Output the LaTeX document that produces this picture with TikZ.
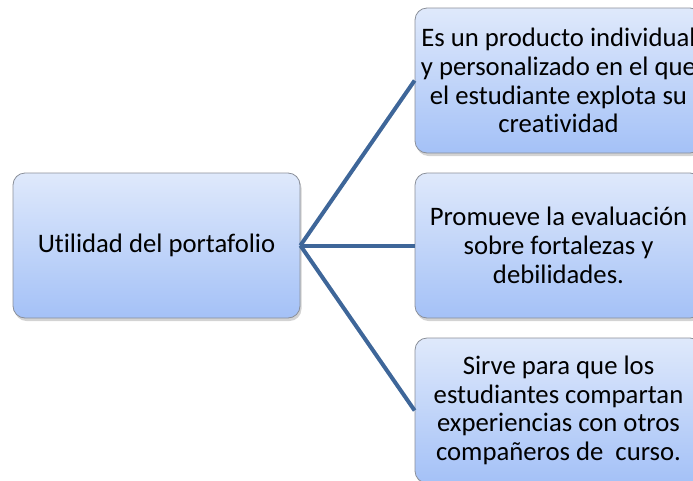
\documentclass[tikz,border=0pt]{standalone}
\usepackage{fontspec}
\setmainfont{Carlito}[Ligatures=CommonOff]
\usetikzlibrary{shadows}
\definecolor{boxtop}{HTML}{DFE9FB}
\definecolor{boxbot}{HTML}{A4C1F7}
\definecolor{boxline}{HTML}{8A8F99}
\definecolor{linkcol}{HTML}{3E6699}
\tikzset{
  card/.style={draw=boxline, line width=0.8pt, rounded corners=12pt,
    top color=boxtop, bottom color=boxbot,
    minimum width=287pt, minimum height=145pt, align=center,
    font=\fontsize{26.7}{28.7}\selectfont,
    drop shadow={shadow xshift=1.5pt, shadow yshift=-3pt, opacity=0.35}},
  link/.style={draw=linkcol, line width=4pt}
}
\begin{document}
\begin{tikzpicture}[x=1pt,y=-1pt]
  \useasboundingbox (0,0) rectangle (693,480);
  \draw
    (156.5,245.5) node[card] (util) {Utilidad del portafolio}
    (558.5,80.5) node[card] (prod) {Es un producto individual\\y personalizado en el que\\el estudiante explota su\\creatividad}
    (558.5,245.5) node[card] (eval) {Promueve la evaluación\\sobre fortalezas y\\debilidades.}
    (558.5,410.5) node[card] (comp) {Sirve para que los\\estudiantes compartan\\experiencias con otros\\compañeros de\ \ curso.};
  \begin{scope}[link]
    \draw (util.east) to (prod.west);
    \draw (util.east) to (eval.west);
    \draw (util.east) to (comp.west);
  \end{scope}
\end{tikzpicture}
\end{document}
